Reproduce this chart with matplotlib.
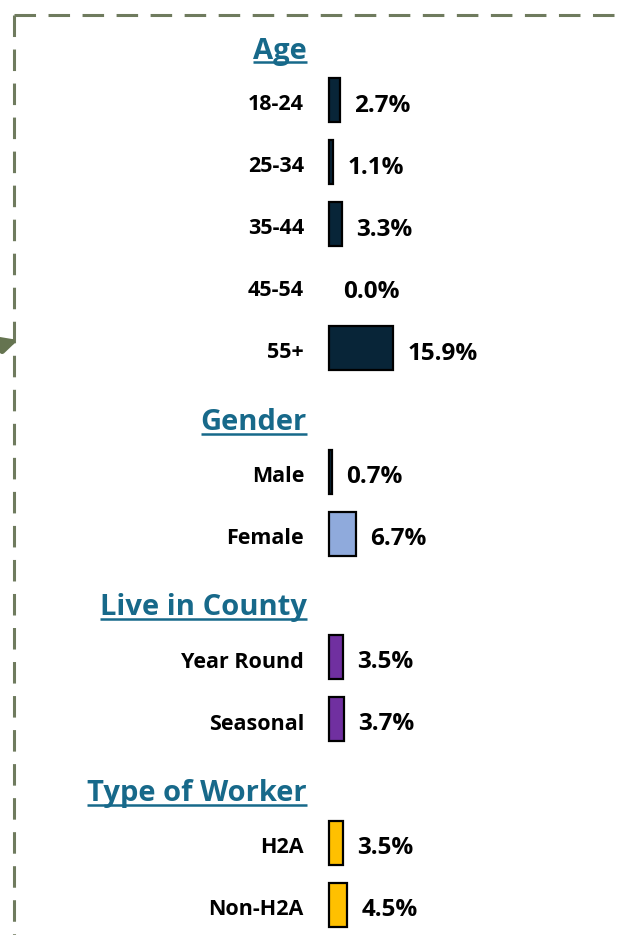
import matplotlib
matplotlib.use('Agg')
import matplotlib.pyplot as plt
from matplotlib.lines import Line2D

# 数据
groups = ['Age', 'Gender', 'Live in County', 'Type of Worker']
age_labels = ['18-24', '25-34', '35-44', '45-54', '55+']
age_values = [2.7, 1.1, 3.3, 0.0, 15.9]
gender_labels = ['Male', 'Female']
gender_values = [0.7, 6.7]
county_labels = ['Year Round', 'Seasonal']
county_values = [3.5, 3.7]
worker_labels = ['H2A', 'Non-H2A']
worker_values = [3.5, 4.5]

group_labels = [age_labels, gender_labels, county_labels, worker_labels]
group_values = [age_values, gender_values, county_values, worker_values]
# 每行单独着色：男性为深色细线，女性为浅蓝
group_colors = [['#082538'] * 5,
                ['#082538', '#8FAADC'],
                ['#7030A0', '#7030A0'],
                ['#FFC000', '#FFC000']]

plt.rcParams['font.family'] = ['Open Sans', 'DejaVu Sans']
plt.rcParams['lines.scale_dashes'] = False

fig = plt.figure(figsize=(6.25, 9.35), dpi=100)
ax = fig.add_axes([0, 0, 1, 1])
ax.set_xlim(0, 625)
ax.set_ylim(935, 0)
ax.axis('off')

header_color = '#17698A'
border_color = '#6F7B5E'

# 布局（像素）
bar_left = 329
px_per_pct = 4.05
bar_h = 44
row_step = 62
first_row = 41.5
group_gap = 82

# 虚线边框 + 箭头
ax.add_line(Line2D([14, 14], [15, 940], color=border_color, lw=2.2,
                   dashes=(15.5, 9)))
ax.add_line(Line2D([14, 630], [15, 15], color=border_color, lw=2.2,
                   dashes=(15.5, 9)))
ax.annotate('', xy=(18, 340), xytext=(-8, 348),
            arrowprops=dict(arrowstyle='-|>', color='#657450', lw=4,
                            mutation_scale=22, shrinkA=0, shrinkB=0))

renderer = fig.canvas.get_renderer()
y_head = 58.5
for title, labels, values, colors in zip(groups, group_labels, group_values, group_colors):
    t = ax.text(307, y_head, title, ha='right', va='baseline', fontsize=21,
                fontweight='bold', color=header_color)
    bb = t.get_window_extent(renderer).transformed(ax.transData.inverted())
    ax.plot([bb.x0, bb.x1], [y_head + 3.5, y_head + 3.5], color=header_color, lw=1.8,
            solid_capstyle='butt')

    ys = [y_head + first_row + i * row_step for i in range(len(labels))]
    widths = [v * px_per_pct for v in values]
    lws = [0 if v == 0 else 1.6 for v in values]
    ax.barh(ys, widths, left=bar_left, height=bar_h, color=colors,
            edgecolor='black', linewidth=lws)
    for y, lab, v, w in zip(ys, labels, values, widths):
        ax.text(304, y + 10.5, lab, ha='right', va='baseline', fontsize=15.5,
                fontweight='bold', color='black')
        ax.text(bar_left + w + 14, y + 11.5, f'{v:.1f}%', ha='left', va='baseline',
                fontsize=17.5, fontweight='bold', color='black')
    y_head = ys[-1] + group_gap

fig.savefig('out.png', dpi=100)
